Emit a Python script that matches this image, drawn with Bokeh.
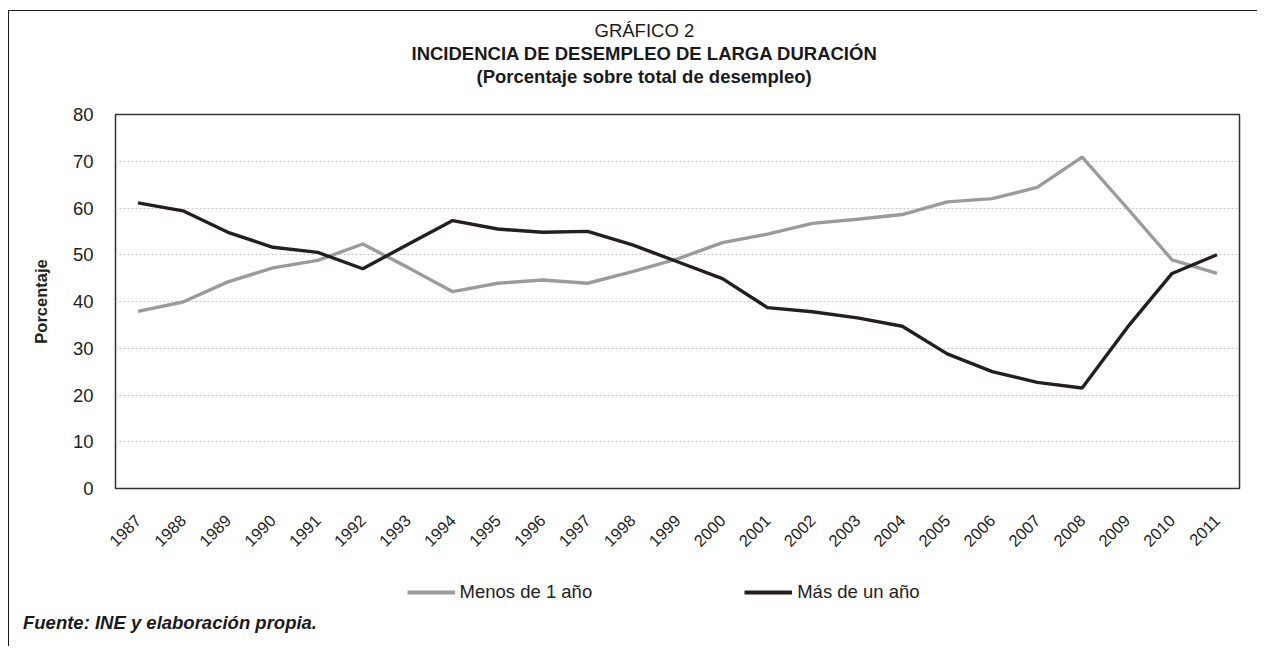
import math
from bokeh.plotting import figure
from bokeh.models import Legend, LegendItem, Range1d, FixedTicker, Title, Label
from bokeh.embed import file_html
from bokeh.resources import INLINE

# ---------------- data ----------------
years = ["1987", "1988", "1989", "1990", "1991", "1992", "1993", "1994", "1995",
         "1996", "1997", "1998", "1999", "2000", "2001", "2002", "2003", "2004",
         "2005", "2006", "2007", "2008", "2009", "2010", "2011"]
menos_1_anio = [37.9, 39.9, 44.2, 47.2, 48.8, 52.3, 47.3, 42.1, 43.9, 44.6, 43.9, 46.4,
                49.1, 52.6, 54.4, 56.7, 57.6, 58.6, 61.3, 62.0, 64.4, 70.9, 60.0, 48.9, 46.0]
mas_1_anio = [61.1, 59.4, 54.8, 51.6, 50.5, 47.0, 52.2, 57.3, 55.5, 54.8, 55.0, 52.1,
              48.5, 44.9, 38.7, 37.8, 36.5, 34.7, 28.8, 25.0, 22.7, 21.5, 34.4, 46.0, 50.0]
y_ticks = [0, 10, 20, 30, 40, 50, 60, 70, 80]
series_names = ["Menos de 1 año", "Más de un año"]
series_colors = ["#9b9b9b", "#231f20"]
title_lines = ["GRÁFICO 2",
               "INCIDENCIA DE DESEMPLEO DE LARGA DURACIÓN",
               "(Porcentaje sobre total de desempleo)"]
y_axis_title = "Porcentaje"
source_note = "Fuente: INE y elaboración propia."

FONT = "Liberation Sans"
TXT = "#1a1a1a"

# ---------------- layout (page px) ----------------
OX, OY = 9.5, 11.5        # canvas origin on the page
F_L, F_R, F_T, F_B = 116, 1240, 115, 489   # frame in page px
MB_L, MB_R, MB_T, MB_B = 106, 18, 103, 72
W = MB_L + (F_R - F_L) + MB_R
H1 = MB_T + (F_B - F_T) + MB_B
H2 = 86

p = figure(x_range=years, y_range=Range1d(0, 80),
           frame_width=F_R - F_L, frame_height=F_B - F_T,
           output_backend="svg", toolbar_location=None, title=None,
           min_border_left=MB_L, min_border_right=MB_R,
           min_border_top=MB_T, min_border_bottom=MB_B,
           background_fill_color="white", border_fill_color="white",
           styles={"border-left": "1.5px solid #1a1a1a",
                   "border-top": "1.5px solid #1a1a1a",
                   "margin-left": "8px",
                   "margin-top": "10px"})

p.outline_line_color = "#333333"
p.outline_line_width = 1.5

# grid
p.xgrid.grid_line_color = None
p.ygrid.grid_line_color = "#c4c4c4"
p.ygrid.grid_line_dash = "2 2"
p.ygrid.grid_line_width = 1
p.yaxis.ticker = FixedTicker(ticks=y_ticks)

# axes
for ax in (p.xaxis, p.yaxis):
    ax.axis_line_color = None
    ax.major_tick_line_color = None
    ax.minor_tick_line_color = None
    ax.major_tick_out = 0
    ax.minor_tick_out = 0
    ax.major_label_text_font = FONT
    ax.major_label_text_color = "#222222"

p.yaxis.major_label_text_font_size = "18.5px"
p.yaxis.major_label_standoff = 22
p.yaxis.axis_label = y_axis_title
p.yaxis.axis_label_text_font = FONT
p.yaxis.axis_label_text_font_style = "bold"
p.yaxis.axis_label_text_font_size = "16.5px"
p.yaxis.axis_label_text_color = "#222222"
p.yaxis.axis_label_standoff = 20

p.xaxis.major_label_orientation = math.pi / 4
p.xaxis.major_label_text_font_size = "16.5px"
p.xaxis.major_label_standoff = 29

# lines
p.line(years, menos_1_anio, line_color=series_colors[0], line_width=3.4)
p.line(years, mas_1_anio, line_color=series_colors[1], line_width=3.4)

# titles (first added = nearest the frame); left aligned, offset to centre at x=645
p.add_layout(Title(text=" ", standoff=15, text_font=FONT, text_font_size="10px"), "above")
p.add_layout(Title(text=title_lines[2], align="left", offset=361, standoff=0,
                   text_font=FONT, text_font_size="18.5px", text_font_style="bold",
                   text_color=TXT), "above")
p.add_layout(Title(text=title_lines[1], align="left", offset=296, standoff=0,
                   text_font=FONT, text_font_size="18.5px", text_font_style="bold",
                   text_color=TXT), "above")
p.add_layout(Title(text=title_lines[0], align="left", offset=479, standoff=0,
                   text_font=FONT, text_font_size="18.5px", text_font_style="normal",
                   text_color=TXT), "above")

# ---------------- footer strip (separate root): legend + source ----------------
Y0 = 1000  # footer y range kept far above the data so its series stay out of view
p2 = figure(width=W, height=H2, x_range=years, y_range=Range1d(Y0, Y0 + H2),
            output_backend="svg", toolbar_location=None, title=None,
            min_border_left=0, min_border_right=0, min_border_top=0, min_border_bottom=0,
            background_fill_color="white", border_fill_color="white",
            styles={"border-left": "1.5px solid #1a1a1a",
                    "margin-left": "8px"})
p2.axis.visible = False
p2.grid.visible = False
p2.outline_line_color = None

k1 = p2.line(years, menos_1_anio, line_color=series_colors[0], line_width=4)
k2 = p2.line(years, mas_1_anio, line_color=series_colors[1], line_width=4)

foot_top = OY + H1
legend_mid = 592
legend = Legend(items=[LegendItem(label=series_names[0], renderers=[k1]),
                       LegendItem(label=series_names[1], renderers=[k2])],
                orientation="horizontal",
                location=(407 - OX, H2 - (legend_mid - foot_top) - 11),
                glyph_width=48, glyph_height=22, label_standoff=5, spacing=152,
                padding=0, margin=0, border_line_color=None,
                background_fill_alpha=0,
                label_text_font=FONT, label_text_font_size="18.5px",
                label_text_color="#222222")
p2.add_layout(legend)

band = W / len(years)
p2.add_layout(Label(x=(23 - OX) / band, y=Y0 + H2 - (622 - foot_top), text=source_note,
                    text_align="left", text_baseline="middle",
                    text_font=FONT, text_font_size="18.5px",
                    text_font_style="bold italic", text_color=TXT))

open("out.html", "w").write(file_html([p, p2], INLINE))
